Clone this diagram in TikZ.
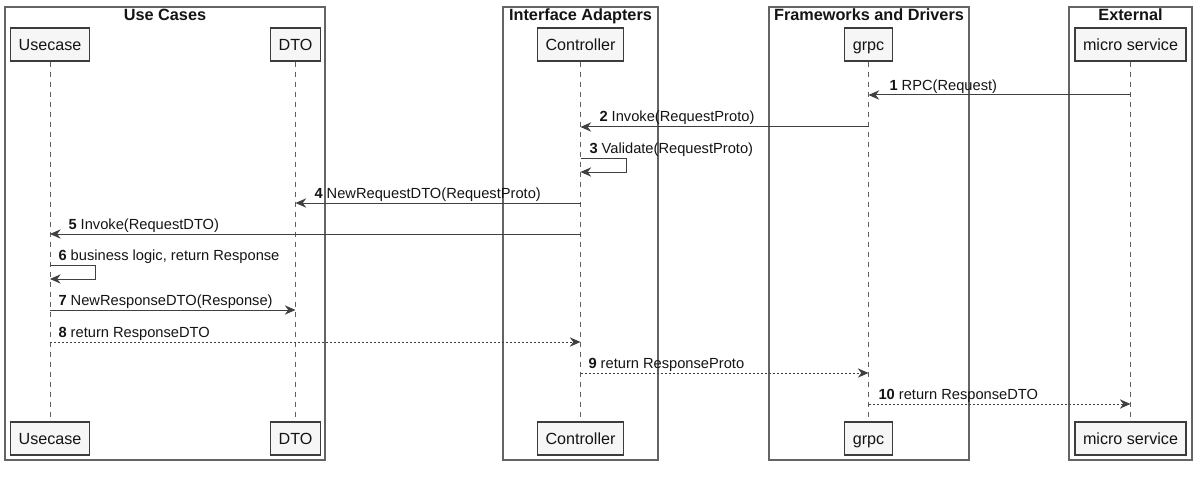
\documentclass[tikz,border=0pt]{standalone}
\usepackage{fontspec}
\setmainfont{Liberation Sans}
\usetikzlibrary{arrows.meta}

\definecolor{boxfill}{RGB}{246,246,246}
\definecolor{boxline}{RGB}{60,60,60}
\definecolor{frameline}{RGB}{100,100,100}
\definecolor{lifeline}{RGB}{95,95,95}
\definecolor{msgline}{RGB}{64,64,64}
\definecolor{txt}{RGB}{20,20,20}

\tikzset{every picture/.style={line width=0.75pt}}
\tikzset{
  part/.style={draw=boxline, fill=boxfill, line width=1pt, minimum height=24.75pt,
    inner xsep=6pt, inner ysep=0pt, text height=8.6pt, text depth=0pt,
    text=txt, font=\fontsize{12.1}{14}\selectfont},
  grp/.style={draw=frameline, line width=1pt},
  grptitle/.style={anchor=base, inner sep=0pt, text=txt, font=\bfseries\fontsize{12.2}{14}\selectfont},
  life/.style={draw=lifeline, line width=0.75pt, dash pattern={on 3.75pt off 3.75pt}},
  msg/.style={draw=msgline, line width=0.75pt, -{Stealth[length=8pt,width=7pt,inset=2.6pt]}},
  reply/.style={msg, dash pattern={on 1.5pt off 1.5pt}},
  lbl/.style={anchor=base west, inner sep=0pt, text=txt, font=\fontsize{11}{13}\selectfont},
}

\begin{document}
\begin{tikzpicture}[x=0.75pt,y=0.75pt,yscale=-1,xscale=1]
\useasboundingbox (0,0) rectangle (1200,478);

%Shape: Rectangle [Use Cases]
\draw[grp] (5,7) rectangle (325,460);
\node[grptitle] (tUse) at (165,20.5) {Use Cases};
%Shape: Rectangle [Interface Adapters]
\draw[grp] (503,7) rectangle (658,460);
\node[grptitle] (tAdapt) at (580.5,20.5) {Interface Adapters};
%Shape: Rectangle [Frameworks and Drivers]
\draw[grp] (769,7) rectangle (969,460);
\node[grptitle] (tFrame) at (869,20.5) {Frameworks and Drivers};
%Shape: Rectangle [External]
\draw[grp] (1069,7) rectangle (1192,460);
\node[grptitle] (tExt) at (1130.5,20.5) {External};

% Participants (head)
\node[part] (usecase) at (50,44.5) {Usecase};
\node[part] (dto) at (295.5,44.5) {DTO};
\node[part] (ctrl) at (580.5,44.5) {Controller};
\node[part] (grpc) at (868.5,44.5) {grpc};
\node[part] (micro) at (1130.5,44.5) {micro service};
% Participants (foot)
\node[part] (usecaseB) at (50,438.5) {Usecase};
\node[part] (dtoB) at (295.5,438.5) {DTO};
\node[part] (ctrlB) at (580.5,438.5) {Controller};
\node[part] (grpcB) at (868.5,438.5) {grpc};
\node[part] (microB) at (1130.5,438.5) {micro service};

% Lifelines
\draw[life] (usecase) -- (usecaseB);
\draw[life] (dto) -- (dtoB);
\draw[life] (ctrl) -- (ctrlB);
\draw[life] (grpc) -- (grpcB);
\draw[life] (micro) -- (microB);

% Message rows
\coordinate (m1) at (0,95);
\coordinate (m2) at (0,127);
\coordinate (m3) at (0,158);
\coordinate (m3b) at (0,172);
\coordinate (m4) at (0,203);
\coordinate (m5) at (0,234);
\coordinate (m6) at (0,265);
\coordinate (m6b) at (0,279);
\coordinate (m7) at (0,310);
\coordinate (m8) at (0,342);
\coordinate (m9) at (0,373);
\coordinate (m10) at (0,404);

%Straight Lines [1]
\draw[msg] (micro |- m1) -- (grpc |- m1);
%Straight Lines [2]
\draw[msg] (grpc |- m2) -- (ctrl |- m2);
%Self Loop [3]
\draw[msg] (ctrl |- m3) -- ++(45.5,0) |- (ctrl |- m3b);
%Straight Lines [4]
\draw[msg] (ctrl |- m4) -- (dto |- m4);
%Straight Lines [5]
\draw[msg] (ctrl |- m5) -- (usecase |- m5);
%Self Loop [6]
\draw[msg] (usecase |- m6) -- ++(45,0) |- (usecase |- m6b);
%Straight Lines [7]
\draw[msg] (usecase |- m7) -- (dto |- m7);
%Dotted Lines [8]
\draw[reply] (usecase |- m8) -- (ctrl |- m8);
%Dotted Lines [9]
\draw[reply] (ctrl |- m9) -- (grpc |- m9);
%Dotted Lines [10]
\draw[reply] (grpc |- m10) -- (micro |- m10);

% Text Node
\node[lbl] (l1) at (889,90) {\textbf{1} RPC(Request)};
% Text Node
\node[lbl] (l2) at (599,122) {\textbf{2} Invoke(RequestProto)};
% Text Node
\node[lbl] (l3) at (589,153) {\textbf{3} Validate(RequestProto)};
% Text Node
\node[lbl] (l4) at (314,198) {\textbf{4} NewRequestDTO(RequestProto)};
% Text Node
\node[lbl] (l5) at (68,229) {\textbf{5} Invoke(RequestDTO)};
% Text Node
\node[lbl] (l6) at (58,260) {\textbf{6} business logic, return Response};
% Text Node
\node[lbl] (l7) at (58,305) {\textbf{7} NewResponseDTO(Response)};
% Text Node
\node[lbl] (l8) at (58,337) {\textbf{8} return ResponseDTO};
% Text Node
\node[lbl] (l9) at (588,368) {\textbf{9} return ResponseProto};
% Text Node
\node[lbl] (l10) at (878,399) {\textbf{10} return ResponseDTO};

\end{tikzpicture}
\end{document}
